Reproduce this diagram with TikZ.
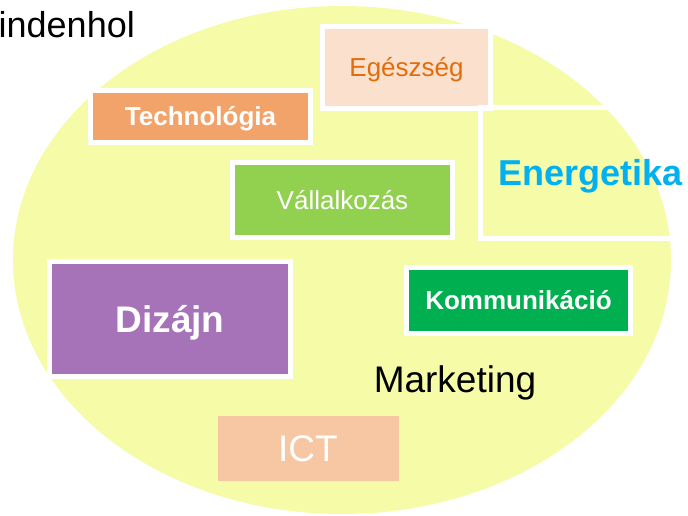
\documentclass[tikz,border=0pt]{standalone}
\usepackage{fontspec}
\setmainfont{Liberation Sans}
\definecolor{ellfill}{HTML}{F6FBA8}
\definecolor{egfill}{HTML}{FBE1CD}
\definecolor{egtext}{HTML}{E36C0A}
\definecolor{techfill}{HTML}{F2A36A}
\definecolor{valfill}{HTML}{92D050}
\definecolor{enertext}{HTML}{00B0F0}
\definecolor{dizfill}{HTML}{A672B8}
\definecolor{komfill}{HTML}{00B050}
\definecolor{ictfill}{HTML}{F7C7A4}
\tikzset{
  box/.style={rectangle, draw=white, line width=5pt, inner sep=0pt, outer sep=0pt,
    text depth=0pt, align=center},
  fs/.style 2 args={font=\fontsize{#1}{#1}\selectfont, text height=#2},
  fsb/.style 2 args={font=\fontsize{#1}{#1}\selectfont\bfseries, text height=#2},
}
\begin{document}
\begin{tikzpicture}[x=1pt,y=-1pt]
\useasboundingbox (0,0) rectangle (688,515);
\fill[white] (0,0) rectangle (688,515);
\fill[ellfill] (342,260) ellipse [x radius=329, y radius=254];
\node[anchor=base west, inner sep=0pt, font=\fontsize{36}{36}\selectfont] (mind) at (-1.5,37) {indenhol};
\node[box, fill=egfill, text=egtext, fs={26}{18.6pt}, minimum width=168, minimum height=82] (eg) at (406.5,67.5) {Egészség};
\node[box, fill=techfill, text=white, fsb={26}{18.6pt}, minimum width=220, minimum height=52] (tech) at (200.5,116.5) {Technológia};
\node[box, fill=none, text=enertext, fsb={36}{25.8pt}, minimum width=219.5, minimum height=131] (ener) at (590.25,173) {Energetika};
\node[box, fill=valfill, text=white, fs={26}{18.6pt}, minimum width=220, minimum height=75] (val) at (342.5,200) {Vállalkozás};
\node[box, fill=dizfill, text=white, fsb={37}{26.5pt}, minimum width=241, minimum height=115] (diz) at (170,319) {Dizájn};
\node[box, fill=komfill, text=white, fsb={26}{18.6pt}, minimum width=224, minimum height=66] (kom) at (518.5,300.5) {Kommunikáció};
\node[anchor=base, inner sep=0pt, font=\fontsize{37}{37}\selectfont] (mark) at (455,392) {Marketing};
\node[box, draw=none, fill=ictfill, text=white, fs={37}{26.5pt}, minimum width=181, minimum height=65] (ict) at (308,448.5) {ICT};
\end{tikzpicture}
\end{document}
